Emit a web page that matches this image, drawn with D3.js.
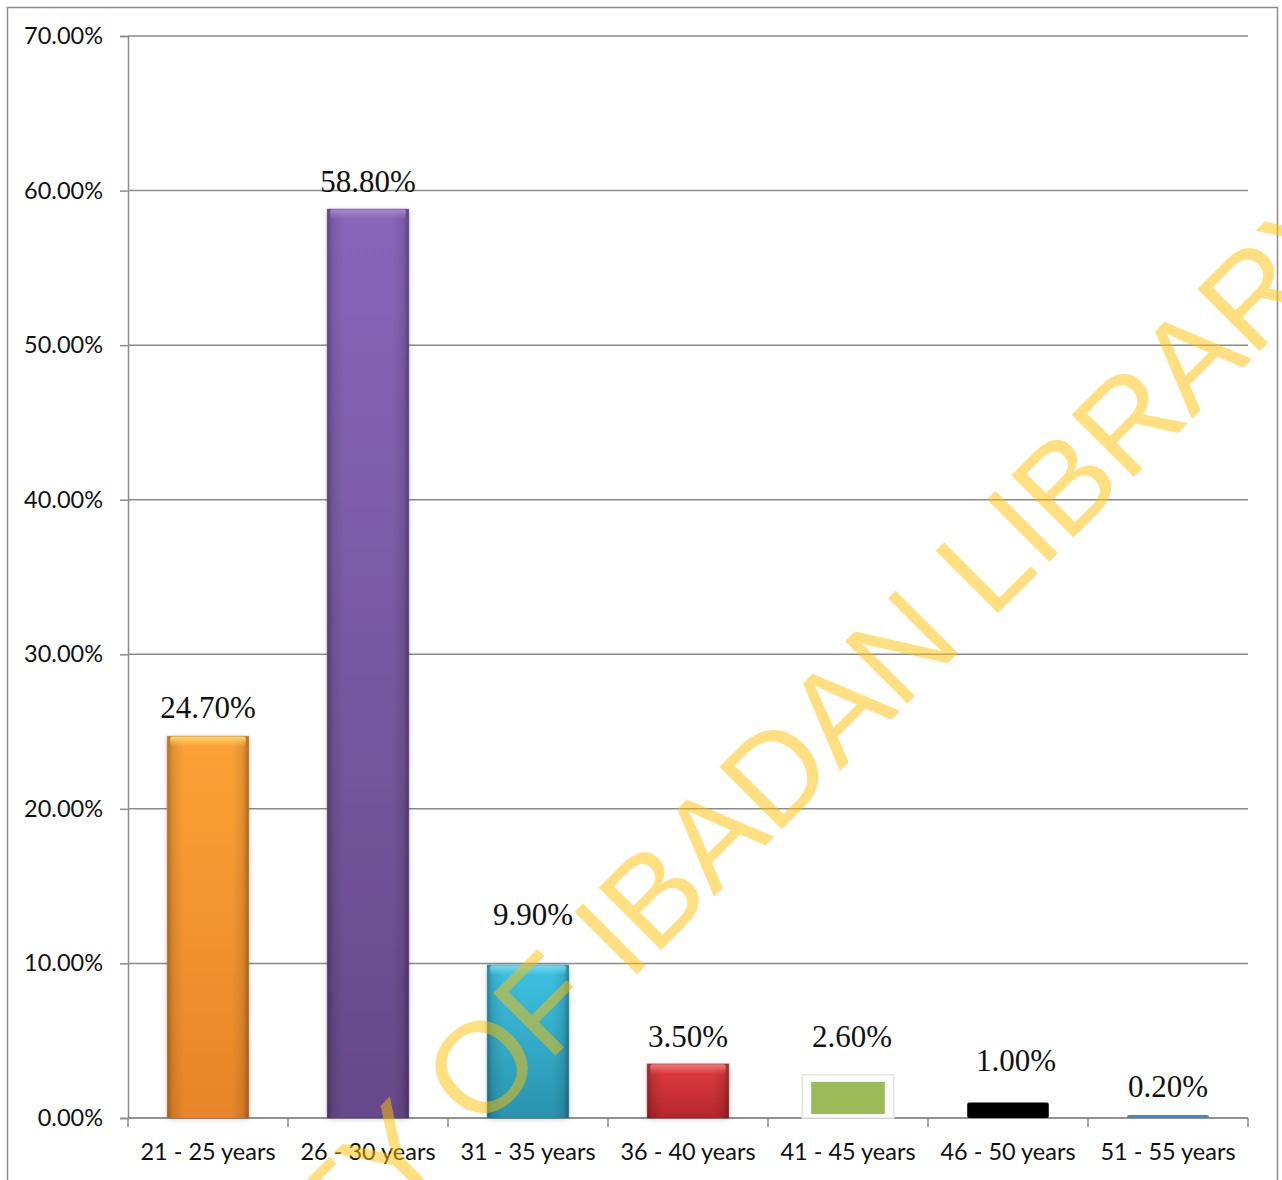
<!DOCTYPE html>
<html>
<head>
<meta charset="utf-8">
<script src="https://cdn.jsdelivr.net/npm/d3@7/dist/d3.min.js"></script>
<style>
  html, body { margin: 0; padding: 0; background: #fff; }
  svg { display: block; }
</style>
</head>
<body>
<svg id="chart" width="1282" height="1180"></svg>
<script>
// ---- data ----
const categories = ["21 - 25 years", "26 - 30 years", "31 - 35 years", "36 - 40 years",
                    "41 - 45 years", "46 - 50 years", "51 - 55 years"];
const values = [24.7, 58.8, 9.9, 3.5, 2.6, 1.0, 0.2];
const valueLabels = ["24.70%", "58.80%", "9.90%", "3.50%", "2.60%", "1.00%", "0.20%"];
const yTicks = [0, 10, 20, 30, 40, 50, 60, 70];

// ---- styles ----
const barStyles = [
  { top: "#fca235", bottom: "#e8842a", edge: "#c96d1e", hi: "#ffd86a", kind: "bevel" },
  { top: "#8a66b9", bottom: "#66498a", edge: "#4f3870", hi: "#a78bd0", kind: "bevel" },
  { top: "#3cc2e2", bottom: "#2a93ad", edge: "#1f7890", hi: "#7ad8ef", kind: "bevel" },
  { top: "#e43c42", bottom: "#b5272c", edge: "#8f1d22", hi: "#f07a7e", kind: "bevel" },
  { fill: "#9bbb59", kind: "framed" },
  { fill: "#000000", kind: "flat" },
  { fill: "#4f81bd", kind: "flat" }
];
// vertical gap between a bar top and its value label baseline, and a small sideways nudge
const labelGap = [18, 17, 40, 17, 31, 32, 18];
const labelShift = [0, 0, 5, 0, 4, 8, 0];

const plot = { left: 128, right: 1248, top: 36, bottom: 1118 };
const axisFont = "Lato, 'Open Sans', sans-serif";
const axisColor = "#8a8a8a";

const svg = d3.select("#chart");
const defs = svg.append("defs");

const x = d3.scaleBand()
  .domain(categories)
  .range([plot.left, plot.right])
  .paddingInner(0.49)
  .paddingOuter(0.245);

const y = d3.scaleLinear().domain([0, 70]).range([plot.bottom, plot.top]);

// outer chart frame
svg.append("rect")
  .attr("x", 7.5).attr("y", 7.5)
  .attr("width", 1270).attr("height", 1200)
  .attr("fill", "#fff")
  .attr("stroke", "#8c8c8c").attr("stroke-width", 1.5);

// gridlines
svg.append("g")
  .selectAll("line")
  .data(yTicks)
  .join("line")
  .attr("x1", plot.left).attr("x2", plot.right)
  .attr("y1", d => y(d)).attr("y2", d => y(d))
  .attr("stroke", axisColor).attr("stroke-width", 1.5);

// y axis
const yAxis = svg.append("g")
  .attr("transform", `translate(${plot.left},0)`)
  .call(d3.axisLeft(y).tickValues(yTicks).tickFormat(d => d.toFixed(2) + "%")
    .tickSize(8).tickPadding(17));
yAxis.select(".domain").attr("stroke", axisColor).attr("stroke-width", 1.5);
yAxis.selectAll(".tick line").attr("stroke", axisColor).attr("stroke-width", 1.5);
yAxis.selectAll(".tick text")
  .attr("font-family", axisFont)
  .attr("font-size", 23.5).attr("fill", "#111");

// x axis: labels centred on bands, ticks on band boundaries
const xAxis = svg.append("g")
  .attr("transform", `translate(0,${plot.bottom})`)
  .call(d3.axisBottom(x).tickSize(0).tickPadding(25));
xAxis.select(".domain").remove();
xAxis.selectAll(".tick text")
  .attr("font-family", axisFont)
  .attr("font-size", 23.5).attr("fill", "#111");

const boundaries = d3.range(categories.length + 1)
  .map(i => plot.left + i * x.step());
svg.append("g").selectAll("line")
  .data(boundaries)
  .join("line")
  .attr("x1", d => d).attr("x2", d => d)
  .attr("y1", plot.bottom).attr("y2", plot.bottom + 9)
  .attr("stroke", axisColor).attr("stroke-width", 1.5);
svg.append("line")
  .attr("x1", plot.left).attr("x2", plot.right)
  .attr("y1", plot.bottom).attr("y2", plot.bottom)
  .attr("stroke", axisColor).attr("stroke-width", 1.5);

// soft shadow for bars
const shadow = defs.append("filter").attr("id", "barShadow")
  .attr("x", "-20%").attr("y", "-20%").attr("width", "140%").attr("height", "140%");
shadow.append("feGaussianBlur").attr("in", "SourceAlpha").attr("stdDeviation", 3).attr("result", "b");
shadow.append("feOffset").attr("in", "b").attr("dx", 0).attr("dy", 1).attr("result", "o");
shadow.append("feComponentTransfer").attr("in", "o").attr("result", "s")
  .append("feFuncA").attr("type", "linear").attr("slope", 0.18);
const merge = shadow.append("feMerge");
merge.append("feMergeNode").attr("in", "s");
merge.append("feMergeNode").attr("in", "SourceGraphic");

// horizontal edge shading shared by bevelled bars
const edgeGrad = defs.append("linearGradient").attr("id", "edgeShade")
  .attr("x1", 0).attr("x2", 1).attr("y1", 0).attr("y2", 0);
[[0, 0.3], [0.07, 0.1], [0.2, 0], [0.8, 0], [0.93, 0.1], [1, 0.33]].forEach(([o, a]) =>
  edgeGrad.append("stop").attr("offset", o).attr("stop-color", "#000").attr("stop-opacity", a));

barStyles.forEach((s, i) => {
  if (s.kind !== "bevel") return;
  const g = defs.append("linearGradient").attr("id", "barGrad" + i)
    .attr("x1", 0).attr("x2", 0).attr("y1", 0).attr("y2", 1);
  g.append("stop").attr("offset", 0).attr("stop-color", s.top);
  g.append("stop").attr("offset", 1).attr("stop-color", s.bottom);
  const h = defs.append("linearGradient").attr("id", "hiGrad" + i)
    .attr("x1", 0).attr("x2", 0).attr("y1", 0).attr("y2", 1);
  h.append("stop").attr("offset", 0).attr("stop-color", s.hi).attr("stop-opacity", 1);
  h.append("stop").attr("offset", 1).attr("stop-color", s.hi).attr("stop-opacity", 0);
});

// bars
const bars = svg.append("g");
values.forEach((v, i) => {
  const s = barStyles[i];
  const bx = x(categories[i]), bw = x.bandwidth();
  const by = y(v), bh = y(0) - y(v);
  const g = bars.append("g");
  if (s.kind === "bevel") {
    g.append("rect").attr("x", bx).attr("y", by).attr("width", bw).attr("height", bh)
      .attr("fill", `url(#barGrad${i})`).attr("filter", "url(#barShadow)");
    g.append("rect").attr("x", bx).attr("y", by).attr("width", bw).attr("height", bh)
      .attr("fill", "url(#edgeShade)");
    g.append("rect").attr("x", bx + 3).attr("y", by).attr("width", bw - 6)
      .attr("height", Math.min(10, bh)).attr("rx", 3)
      .attr("fill", `url(#hiGrad${i})`);
    g.append("rect").attr("x", bx).attr("y", by).attr("width", bw).attr("height", bh)
      .attr("fill", "none").attr("stroke", s.edge).attr("stroke-opacity", 0.45).attr("stroke-width", 1);
  } else if (s.kind === "framed") {
    g.append("rect").attr("x", bx - 5).attr("y", by - 3).attr("width", bw + 10).attr("height", bh + 3)
      .attr("fill", "#fff").attr("stroke", "#e6e6e6").attr("stroke-width", 1.5);
    g.append("rect").attr("x", bx + 4).attr("y", by + 4).attr("width", bw - 8).attr("height", bh - 8)
      .attr("fill", s.fill);
  } else {
    g.append("rect").attr("x", bx).attr("y", by).attr("width", bw).attr("height", bh)
      .attr("rx", 2).attr("fill", s.fill);
  }
});

// value labels
svg.append("g").selectAll("text")
  .data(values)
  .join("text")
  .attr("x", (d, i) => x(categories[i]) + x.bandwidth() / 2 + labelShift[i])
  .attr("y", (d, i) => y(d) - labelGap[i])
  .attr("text-anchor", "middle")
  .attr("font-family", "'Liberation Serif', 'Times New Roman', serif")
  .attr("font-size", 31).attr("fill", "#111")
  .text((d, i) => valueLabels[i]);

// library watermark across the chart
const mark = svg.append("text")
  .attr("font-family", "'Liberation Sans', Arial, sans-serif")
  .attr("font-size", 128)
  .attr("fill", "#ffc000").attr("fill-opacity", 0.5)
  .text("UNIVERSITY OF IBADAN LIBRARY");
const lead = mark.node().getSubStringLength(0, 21);
mark.attr("transform", "translate(990.6,620.4) rotate(-45)").attr("x", -lead).attr("y", 0);
</script>
</body>
</html>
